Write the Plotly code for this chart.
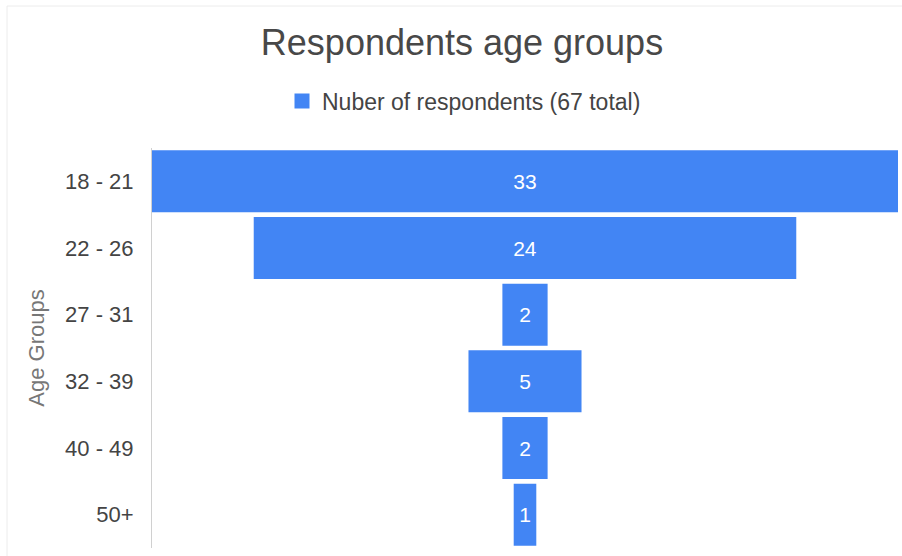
import plotly.graph_objects as go

age_groups = ["18 - 21", "22 - 26", "27 - 31", "32 - 39", "40 - 49", "50+"]
respondents = [33, 24, 2, 5, 2, 1]
series_name = "Nuber of respondents (67 total)"
chart_title = "Respondents age groups"
y_title = "Age Groups"

W, H = 902, 556
ml, mr, mt, mb = 152, 4, 148, 8
pw, ph = W - ml - mr, H - mt - mb

def px_x(px):
    return (px - ml) / pw

def px_y(py):
    return (H - mb - py) / ph

FONT = "Arial, Liberation Sans, sans-serif"
BLUE = "#4285F4"

fig = go.Figure()
fig.add_trace(go.Funnel(
    y=age_groups,
    x=respondents,
    name=series_name,
    showlegend=False,
    textinfo="value",
    textposition="inside",
    insidetextanchor="middle",
    textfont=dict(color="white", size=21, family=FONT),
    marker=dict(color=BLUE, line=dict(width=0)),
    connector=dict(visible=False),
))
# legend entry with a larger square swatch
fig.add_trace(go.Scatter(
    x=[None], y=[None], mode="markers", name=series_name, showlegend=True,
    marker=dict(symbol="square", size=15, color=BLUE),
    hoverinfo="skip",
))

fig.update_layout(
    width=W, height=H,
    margin=dict(l=ml, r=mr, t=mt, b=mb),
    paper_bgcolor="white", plot_bgcolor="white",
    font=dict(family=FONT, color="#444"),
    funnelgap=0.07,
    title=dict(text=chart_title, x=462 / W, xref="container", xanchor="center",
               y=1 - 42 / H, yref="container", yanchor="middle",
               font=dict(size=36, color="#484848")),
    legend=dict(orientation="h", x=464 / W, xref="container", xanchor="center",
                y=1 - 101 / H, yref="container", yanchor="middle",
                font=dict(size=23, color="#444"), itemsizing="trace"),
    xaxis=dict(range=[-16.5, 16.5], visible=False),
    yaxis=dict(autorange="reversed", showline=True, linecolor="#d0d0d0", linewidth=1,
               showgrid=False, zeroline=False, ticks="", ticklabelstandoff=13,
               tickfont=dict(size=22, color="#444"),
               title=dict(text=y_title, font=dict(size=22, color="#777"), standoff=14)),
    shapes=[
        dict(type="line", xref="paper", yref="paper", x0=px_x(7), x1=px_x(902),
             y0=px_y(6), y1=px_y(6), line=dict(color="#ececec", width=1)),
        dict(type="line", xref="paper", yref="paper", x0=px_x(7), x1=px_x(7),
             y0=px_y(6), y1=px_y(556), line=dict(color="#ececec", width=1)),
    ],
)

fig.write_html("out.html", config={"displayModeBar": False},
               post_script="document.body.style.margin='0';document.body.style.overflow='hidden';")
